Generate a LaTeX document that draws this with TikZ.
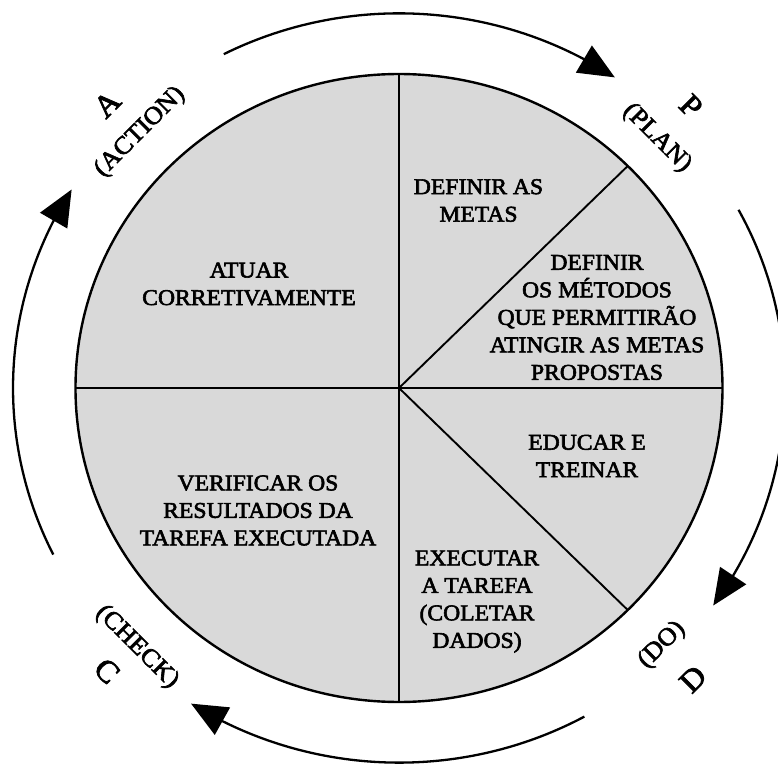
\documentclass[tikz,border=0pt]{standalone}
\usepackage{fontspec}
\setmainfont{Liberation Serif}[FakeStretch=1.05,FakeBold=2.6]
\usetikzlibrary{arrows.meta,bending}

\begin{document}
\begin{tikzpicture}[x=1pt,y=1pt,
  sector/.style={font=\fontsize{22.5}{27.5}\selectfont, align=center, inner sep=0pt},
  cyclelabel/.style={font=\fontsize{25}{28}\selectfont, inner sep=0pt},
  bigletter/.style={font=\fontsize{31}{32}\selectfont, inner sep=0pt},
  rim/.style={line width=2.4pt},
  divider/.style={line width=1.9pt},
  cyclearrow/.style={line width=2.3pt, -{Triangle[length=36pt,width=31pt,flex]}}]
\useasboundingbox (-399,-375) rectangle (379,388);

% the PDCA wheel, slightly flattened
\begin{scope}[yscale=0.9706]
  \fill[black!15] (0,0) circle[radius=323.5];
  \draw[divider] (0,323.5) -- (0,-323.5);
  \draw[divider] (-323.5,0) -- (323.5,0);
  \draw[divider] (0,0) -- (45:323.5);
  \draw[divider] (0,0) -- (-45:323.5);
  \draw[rim] (0,0) circle[radius=323.5];

  % clockwise cycle arrows
  \draw[cyclearrow] (117:386) arc[start angle=117, end angle=56, radius=386];
  \draw[cyclearrow] (28.4:386) arc[start angle=28.4, end angle=-35.5, radius=386];
  \draw[cyclearrow] (-61.3:386) arc[start angle=-61.3, end angle=-122.6, radius=386];
  \draw[cyclearrow] (206.4:386) arc[start angle=206.4, end angle=148, radius=386];
\end{scope}

% sector texts
\node[sector] (goals) at (79.5,187.5) {DEFINIR AS\\METAS};
\node[sector] (act) at (-150,104) {ATUAR\\CORRETIVAMENTE};
\node[sector] (methods) at (198,70.5) {DEFINIR\\OS MÉTODOS\\QUE PERMITIRÃO\\ATINGIR AS METAS\\PROPOSTAS};
\node[sector] (train) at (188,-68) {EDUCAR E\\TREINAR};
\node[sector] (verify) at (-141,-122.5) {VERIFICAR OS\\RESULTADOS DA\\TAREFA EXECUTADA};
\node[sector] (exec) at (78,-213.5) {EXECUTAR\\A TAREFA\\(COLETAR\\DADOS)};

% phase labels around the wheel
\node[cyclelabel, rotate=-45] (planword) at (258,250) {(PLAN)};
\node[bigletter, rotate=-45] (planletter) at (292,282) {P};
\node[cyclelabel, rotate=45] (actionword) at (-259,256) {(ACTION)};
\node[bigletter, rotate=45] (actionletter) at (-292,284) {A};
\node[cyclelabel, rotate=45] (doword) at (263,-257) {(DO)};
\node[bigletter, rotate=45] (doletter) at (294,-291) {D};
\node[cyclelabel, rotate=-45] (checkword) at (-262,-259) {(CHECK)};
\node[bigletter, rotate=-45] (checkletter) at (-292,-283) {C};
\end{tikzpicture}
\end{document}
